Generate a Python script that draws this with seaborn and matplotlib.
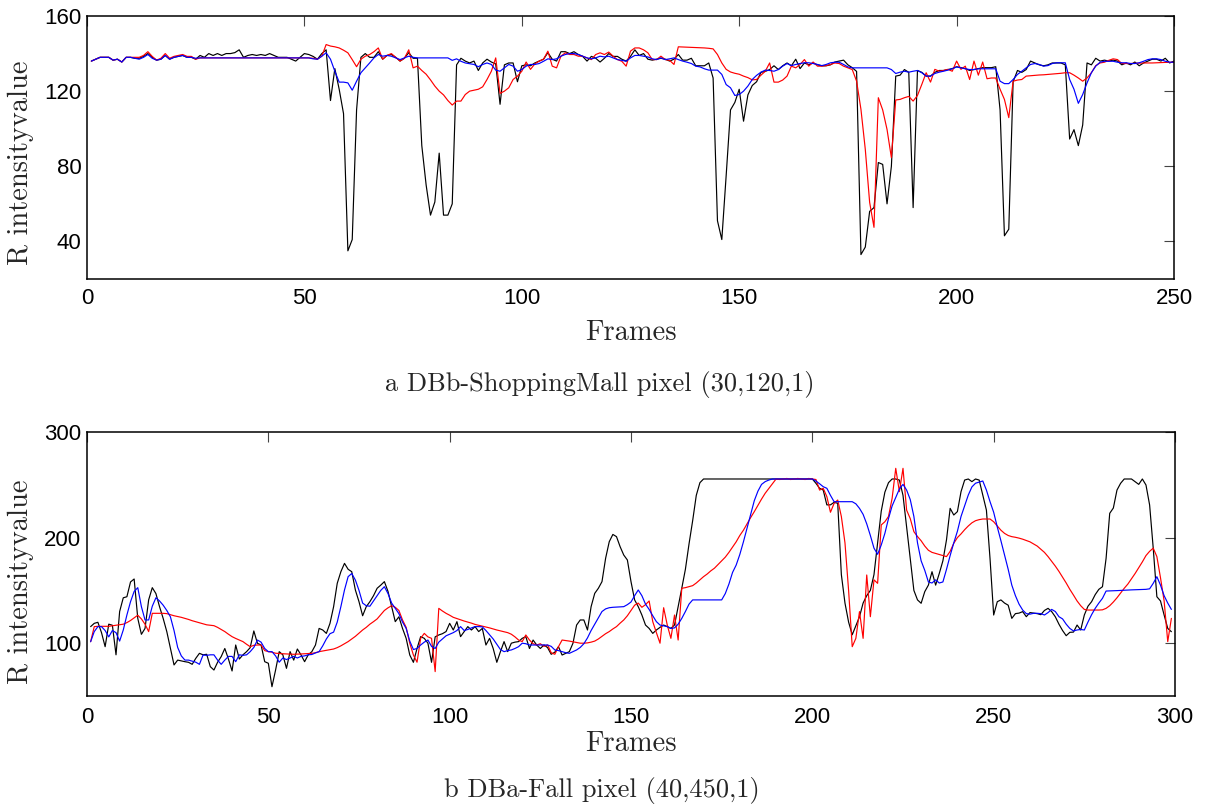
import numpy as np
import pandas as pd
import matplotlib
matplotlib.use("Agg")
import matplotlib.pyplot as plt
import seaborn as sns

# ---------------- data: DBb-ShoppingMall pixel (30,120,1) ----------------
mall_frames = list(range(1, 251))

mall_input = [
    136, 137, 138, 138, 138, 136.5, 137, 135.5, 138, 138,
    137.5, 137.5, 138.5, 140, 138, 136.5, 137, 139, 137, 138,
    138.5, 139, 138, 138, 137, 139, 138, 140, 139, 140,
    139, 140, 140, 140.5, 142, 138, 139, 139.5, 139, 139.5,
    139, 140, 139, 138, 138, 138, 137, 136, 138, 140,
    139.5, 138.5, 137, 140, 142, 115, 132, 121, 108, 35,
    41, 110, 138, 140, 138, 138, 141, 137, 139, 139.5,
    138, 136, 137.5, 140.5, 137.5, 137.5, 91, 70, 54, 61,
    87, 54, 54, 60, 134, 137.5, 136, 135, 136, 131,
    135, 137, 135.5, 134.5, 113, 134, 135, 135, 125, 133.5,
    134, 133.5, 135, 136, 137, 140.5, 137, 136, 141, 141,
    140, 141, 139.5, 138.5, 136, 138.5, 137.5, 135.5, 137.5, 140,
    138.5, 138.5, 137, 136, 138.5, 142, 139, 140, 137, 136.5,
    137, 137.5, 137, 136, 137, 139.5, 136.5, 136.5, 137.5, 133.5,
    133.5, 133.5, 135, 127, 51, 41, 75, 110, 114, 121,
    104, 118, 123, 125, 130, 130.5, 131.5, 133.5, 131.5, 133.5,
    135, 133.5, 137, 132, 135, 134, 135, 134, 133.5, 133.5,
    134, 135.5, 136, 136.5, 134, 132.5, 130.5, 33, 37, 56,
    58, 82, 81, 60, 80, 128, 128.5, 131.5, 130, 58,
    131, 130, 128, 128, 130, 131, 131, 131.5, 132, 133,
    132.5, 132, 131, 131.5, 132, 132.5, 132.5, 132.5, 133, 110,
    43, 46.5, 125, 131, 130, 131.5, 136, 135, 134, 133.5,
    134, 135, 135, 135, 134, 94.5, 99.5, 91, 102, 135,
    134, 137.5, 136, 136.5, 136, 136.5, 136, 134, 135, 134,
    135.5, 133.5, 135, 136, 137, 137, 136, 137.5, 135, 136,
]

mall_model_1 = [
    136, 137, 138, 138, 138, 136.5, 137, 135.5, 138, 138,
    138, 138, 139, 141, 138.5, 136.5, 137.5, 140, 137.5, 138.5,
    139, 139.5, 138.5, 138.5, 137, 137.7, 137.7, 137.7, 137.7, 137.7,
    137.7, 137.7, 137.7, 137.7, 137.7, 137.7, 137.7, 137.7, 137.7, 137.7,
    137.7, 137.7, 137.7, 137.7, 137.7, 137.7, 137.7, 137.7, 137.7, 137.7,
    137.7, 137.5, 137, 138.6, 144.8, 144, 143.6, 143, 141.8, 140.4,
    136.8, 133, 137, 138.6, 139.5, 141, 143, 137, 139, 140,
    138, 136, 137.5, 142, 132.4, 133.3, 131, 129, 126, 122.7,
    120, 118, 115, 112.6, 114.7, 114.7, 118.2, 120, 120.5, 121,
    122.3, 126.2, 130.6, 137.7, 118.8, 120, 121.8, 126.2, 128, 130.6,
    135.5, 131.6, 134.5, 136, 137, 141.3, 133.3, 132.4, 138.6, 140.4,
    139.5, 139.5, 138.6, 138.6, 137.7, 136.8, 139.5, 140.4, 139.5, 140.8,
    138.6, 136.8, 135.9, 133.3, 141.3, 143, 143, 142, 140.4, 136.8,
    136.8, 138.6, 136.8, 136.4, 134.2, 143.6, 143.5, 143.4, 143.3, 143.2,
    143.1, 143, 142.8, 142.5, 139.5, 135, 131.6, 130.2, 129.5, 129,
    128, 127.2, 126, 126.2, 128.5, 130.6, 135, 124.8, 124.8, 125.9,
    128, 133.3, 132.4, 134.2, 136.8, 133.3, 135.5, 133.3, 133.3, 133.6,
    134.2, 135, 134.7, 133.3, 132.4, 131.5, 125.3, 110.3, 89, 60.8,
    47.5, 116.5, 110, 99.6, 84.6, 115.3, 115.6, 116.5, 117.2, 114.7,
    117.7, 123.6, 129.8, 124.8, 131.6, 130.6, 131, 131.6, 130.6, 136,
    131.6, 133.3, 126.2, 136, 128.5, 135.5, 126.6, 127, 127, 121,
    115.6, 105.9, 125.3, 125.9, 126.2, 128, 128.2, 128.4, 128.6, 128.7,
    128.9, 129.1, 129.3, 129.5, 129.8, 129.8, 128.5, 127, 125.3, 127,
    129.8, 133.6, 135, 135.4, 136.4, 137.2, 136.8, 134.7, 134.7, 134.7,
    134.8, 134.9, 135, 135, 135, 135.1, 135.2, 135.3, 135.3, 135.4,
]

mall_model_2 = [
    136, 137, 138, 138, 138, 136.5, 137, 135.5, 138, 138,
    137.5, 137, 138, 139.5, 137.5, 136.5, 137, 139, 137, 138,
    138.5, 139, 138, 138, 137.5, 137.7, 137.7, 137.7, 137.7, 137.7,
    137.7, 137.7, 137.7, 137.7, 137.7, 137.7, 137.7, 137.7, 137.7, 137.7,
    137.7, 137.7, 137.7, 137.7, 137.7, 137.7, 137.7, 137.7, 137.7, 137.7,
    137.7, 137.2, 137, 138.6, 140.4, 137, 130.6, 124.8, 124.8, 124.4,
    120.5, 125.3, 129.8, 132.4, 135, 137.7, 139.5, 138.6, 139, 138.6,
    137.7, 136.8, 137.7, 138.6, 138, 137.7, 137.7, 137.7, 137.7, 137.7,
    137.7, 137.7, 137.7, 136.4, 137.2, 135.9, 135, 134.6, 134.2, 133,
    134.2, 135, 134.2, 131.2, 130.6, 132.4, 134.2, 133.3, 130.6, 131.5,
    133.3, 134.2, 134.2, 134.7, 135.9, 137.2, 136.8, 137.2, 138.6, 139.5,
    140, 140, 139.5, 138.6, 137.7, 137.2, 137.7, 138.6, 138.2, 138.6,
    137.7, 136.8, 136.4, 135.9, 137.7, 139, 139, 138.6, 138.2, 137.2,
    136.8, 137.7, 136.8, 137.2, 137.7, 136.8, 136, 135.4, 134.7, 133.3,
    132.9, 131.9, 131.2, 131.2, 131.2, 128.9, 123.5, 121.8, 117.7, 118.2,
    120, 122.7, 126.2, 128.4, 130.1, 131.2, 131, 130.6, 131.5, 133.3,
    134.7, 133.6, 134.2, 134.7, 135.1, 135.1, 134.7, 134.2, 133.6, 134.2,
    135.1, 135.4, 135.4, 134.2, 132.9, 132.4, 132.4, 132.4, 132.4, 132.4,
    132.4, 132.4, 132.4, 132.4, 131.5, 129.4, 130.1, 130.6, 130.1, 130.6,
    131, 129.8, 128, 128, 129.4, 130.1, 130.6, 131.2, 131.9, 132.9,
    132.4, 131.9, 131.5, 131.5, 131.9, 131.9, 131.9, 131.9, 131.9, 125.3,
    124, 124, 126.2, 128.9, 130.6, 132.4, 134.2, 134.7, 134.2, 133.3,
    133.6, 134.7, 135.1, 135.1, 135.1, 126.2, 121, 113.5, 118.2, 124.4,
    129.8, 133.3, 135.4, 135.9, 135.9, 135.9, 135.4, 135.1, 135.1, 134.7,
    134.7, 135.1, 135.9, 136.8, 137.2, 137.2, 136.8, 135.9, 135.4, 135.4,
]

# ---------------- data: DBa-Fall pixel (40,450,1) ----------------
fall_frames = list(range(1, 300))

fall_input = [
    115.7, 118.8, 119.8, 110, 96.7, 118, 117, 89, 130, 143,
    144, 158, 160.8, 123.5, 108.4, 114, 141, 152.6, 147, 134.6,
    123.5, 111, 95, 79.4, 84, 83.2, 82.5, 81.9, 80, 85.7,
    90.4, 89, 89.5, 77.8, 74.6, 81.9, 87.3, 95, 85, 73.7,
    98.3, 85, 89, 92, 95.8, 111.6, 99.9, 98.3, 82.5, 81,
    58.8, 74.6, 92, 89, 76.2, 92, 84, 94.5, 89, 82.5,
    89, 92, 98.3, 114, 112.5, 109.3, 118.8, 134.6, 156.7, 167.7,
    175.6, 170, 167.7, 150.4, 139.3, 126, 134.6, 139.3, 145, 152,
    155, 158.3, 149, 134.6, 120.4, 125, 114, 104.6, 88.8, 81.9,
    95, 106.2, 104.6, 100, 81.9, 106, 107.8, 109, 111, 118.8,
    112.5, 120.4, 106.2, 111, 115.7, 112.5, 115.7, 111, 114, 98.3,
    104.6, 95, 81.9, 92, 101.5, 92, 100, 101, 101.5, 104.6,
    106.2, 95, 103, 98.3, 95, 98.3, 95.8, 89.5, 91.5, 96.7,
    88.8, 90.4, 92, 100, 117.2, 122, 122, 112.5, 134.6, 147.2,
    152, 158.3, 180.4, 196.1, 203, 200.9, 191.4, 183.5, 178.8, 158.3,
    141, 134.6, 126.7, 117.2, 114, 109.3, 112.5, 115, 117.2, 115.7,
    114, 117.2, 134.6, 152, 170, 194, 216, 240, 252, 255.5,
    255.5, 255.5, 255.5, 255.5, 255.5, 255.5, 255.5, 255.5, 255.5, 255.5,
    255.5, 255.5, 255.5, 255.5, 255.5, 255.5, 255.5, 255.5, 255.5, 255.5,
    255.5, 255.5, 255.5, 255.5, 255.5, 255.5, 255.5, 255.5, 255.5, 255.5,
    251.4, 246.7, 245, 231, 231, 233.4, 232.5, 165, 138, 120,
    108, 116.5, 125, 138, 145, 150, 165, 195, 225, 243,
    252, 255.5, 255.5, 254.5, 240, 210, 180, 150, 141, 137.8,
    148.8, 155, 167.7, 155, 166, 178, 198, 227.7, 221.4, 224.6,
    243.5, 254.5, 255.5, 253, 255.5, 254.5, 240.3, 226, 180, 126.7,
    139.3, 141, 138, 136, 123.5, 128, 128.5, 129.9, 125.1, 129,
    128.5, 128, 127, 131, 133, 129.9, 125, 118, 112, 107.1,
    110.3, 110.5, 117.2, 112.5, 126.7, 135, 139.3, 146, 151, 153.5,
    180.4, 223, 228, 245, 251.4, 255.5, 255.5, 255.5, 253, 250.4,
    255.5, 249.8, 230.9, 189.8, 144, 140, 126.7, 114, 110.9,
]

fall_model_1 = [
    101.4, 115.7, 116, 116, 116, 116, 116.5, 117, 117.5, 118,
    119.5, 121.5, 124, 126.5, 123, 118, 111, 128.3, 128.3, 128.3,
    128.3, 128, 127, 126, 125.3, 124.5, 123.5, 122.5, 121.3, 120.3,
    119.3, 118.3, 117.4, 117, 116.6, 115, 113, 111, 108.5, 106.2,
    104.5, 103, 101.5, 99, 96.7, 98, 98.3, 98.3, 93, 92,
    91.5, 90.5, 90.2, 90, 89.8, 89.6, 89.5, 89.6, 89.8, 90,
    90.2, 90.4, 91, 92, 92.6, 93.2, 93.8, 94.5, 95.8, 97.5,
    99.5, 101.5, 104, 106.5, 109.5, 112.5, 115, 118, 120.4, 123,
    127, 131, 133.5, 135.5, 134, 131, 122, 115, 100, 88.8,
    82, 104.6, 109.3, 106, 104.6, 73.1, 133, 130.5, 128.3, 126.5,
    124.5, 123.3, 122, 121, 120, 119, 117.8, 117, 116.2, 115.5,
    114.5, 113.5, 112.5, 111.7, 110.8, 110, 108.5, 106, 103, 101.5,
    107.8, 103, 99.5, 98.3, 99.5, 97, 98.3, 91, 89.5, 96.7,
    103, 102.5, 102, 101.3, 100.5, 100, 100, 100.3, 101, 102,
    104, 106.5, 109, 111, 113.5, 115.7, 119, 122, 126, 131,
    136, 138, 134, 136.5, 140, 120.4, 110, 100, 133.6, 117.2,
    104.6, 126.7, 103, 152, 152.6, 153.5, 154.5, 157, 160, 163,
    165.5, 168.5, 171, 174.5, 178, 181.5, 186, 191, 196, 202,
    207, 213, 219, 224.6, 230.5, 236.5, 242, 246.5, 251, 255.5,
    255, 255.5, 256, 255, 255.5, 256, 255.5, 255, 256, 255.5,
    255, 245, 246.7, 238.8, 224, 232.4, 235.6, 220, 195, 150,
    96.7, 104.6, 129.9, 104.6, 164.6, 125.1, 160, 156.7, 212, 215,
    220, 237.2, 265.6, 243.5, 265.6, 226, 218, 205.6, 201, 197,
    192, 188, 186, 185, 184, 183, 182, 187, 194.6, 200,
    203.5, 207.5, 211, 214, 216, 217, 217.6, 217.6, 217.6, 215,
    211, 207, 204, 202, 200.9, 200.3, 199.5, 198.5, 197.3, 196,
    194, 192, 189, 186, 182, 177.5, 173, 168, 162.5, 157,
    151, 145.6, 140, 135.5, 132, 131.4, 131.4, 131.4, 131.4, 131.6,
    133, 135.5, 139, 143, 147.5, 152, 156, 161, 166, 171.5,
    177, 183, 187, 190, 182, 162, 140, 101.5, 123.5,
]

fall_model_2 = [
    101.4, 111, 115.7, 115.7, 112, 106, 112, 110, 102, 112.5,
    126.7, 139.3, 149, 152.6, 134.6, 122, 122, 135, 143, 140,
    136, 131, 125, 112, 96, 88, 84, 84, 83, 82,
    80, 88.8, 88.5, 89, 89, 84, 80, 84, 87.5, 87.5,
    82.5, 89, 88.5, 89, 92, 96, 103, 101, 95, 92,
    92, 88, 82, 86, 84.5, 86, 87.5, 86, 87.5, 88,
    89, 89.3, 90.8, 92, 97.5, 104, 109, 110.5, 120, 134.6,
    150.4, 163, 166, 159.8, 150, 138, 135.5, 135, 140, 145,
    150, 153.5, 147, 138, 133, 128, 120, 114, 102, 94,
    95, 98.3, 101, 103, 97, 95, 101, 104, 107, 108.5,
    110, 112, 115.7, 112, 113, 114.5, 115.7, 115.7, 115.5, 112,
    108, 104, 99, 94, 92, 93, 93.6, 95, 96.7, 100,
    99.5, 98.3, 98.3, 98.3, 98.3, 98.3, 98.3, 97, 93.6, 93,
    92, 91, 90.4, 92, 93.6, 96, 99.5, 105, 112, 118,
    124, 130, 132.5, 133.6, 134, 134.2, 134.4, 134.6, 136.5, 139,
    145, 150.4, 145, 137, 132, 126, 120.4, 117.2, 116.5, 115.7,
    114, 114.5, 118, 123.5, 130, 137, 141, 141, 141, 141,
    141, 141, 141, 141, 141, 147, 156, 167, 174, 184,
    196, 209, 222, 235, 244, 250.4, 253, 254.5, 255.5, 255.5,
    255.5, 255.5, 255.5, 255.5, 255.5, 255.5, 255.5, 255.5, 255.5, 255.5,
    253.5, 251, 248.2, 246.7, 240, 234, 234, 234, 234, 234,
    234, 232, 227.7, 222, 213, 202, 190, 184.2, 193, 204,
    218, 230, 238, 246, 250.4, 245, 236, 220, 195, 178,
    169, 158, 157, 160, 157, 158, 170, 183, 195, 206,
    220, 230, 240.3, 248, 251.5, 252.5, 253.6, 245, 234, 224,
    210, 197, 183.5, 170, 155, 145, 137, 131.4, 128, 127.5,
    128.3, 128.3, 128, 126.7, 129, 132, 130, 125.1, 123, 118,
    114, 111.6, 112.5, 113, 112.5, 120, 127, 133, 138, 142.5,
    149.4, 149.5, 149.6, 149.8, 150, 150.2, 150.4, 150.5, 150.6, 150.7,
    150.8, 151, 151.5, 156.7, 163, 155, 145, 138, 132,
]

series_names = ["Input", "Model 1", "Model 2"]
series_colors = {"Input": "#000000", "Model 1": "#ff0000", "Model 2": "#0000ff"}

mall_xticks = [0, 50, 100, 150, 200, 250]
mall_yticks = [40, 80, 120, 160]
fall_xticks = [0, 50, 100, 150, 200, 250, 300]
fall_yticks = [100, 200, 300]


def long_table(frames, *columns):
    parts = []
    for name, values in zip(series_names, columns):
        parts.append(pd.DataFrame({"frame": frames, "value": values, "series": name}))
    return pd.concat(parts, ignore_index=True)


mall_df = long_table(mall_frames, mall_input, mall_model_1, mall_model_2)
fall_df = long_table(fall_frames, fall_input, fall_model_1, fall_model_2)

# ---------------- figure ----------------
sns.set_theme(style="white")
plt.rcParams["font.family"] = ["Liberation Sans", "DejaVu Sans"]

W, H = 1213, 807
fig = plt.figure(figsize=(W / 100, H / 100), dpi=100)


def axes_rect(left, top, right, bottom):
    return [left / W, 1 - bottom / H, (right - left) / W, (bottom - top) / H]


ax_top = fig.add_axes(axes_rect(87, 16, 1174, 279))
ax_bot = fig.add_axes(axes_rect(87, 432, 1175, 696))

serif = "cmr10"


def draw_panel(ax, df, xlim, ylim, xticks, yticks, xlabel_y, ylabel_y, xpad):
    sns.lineplot(data=df, x="frame", y="value", hue="series",
                 hue_order=series_names, palette=series_colors,
                 estimator=None, sort=False, linewidth=0.85,
                 legend=False, ax=ax)
    ax.set_xlim(*xlim)
    ax.set_ylim(*ylim)
    ax.set_xticks(xticks)
    ax.set_yticks(yticks)
    ax.tick_params(axis="both", direction="in", length=7, width=0.8,
                   color="#444444", top=True, right=True, labelsize=16,
                   labelcolor="black")
    ax.tick_params(axis="x", pad=xpad)
    ax.tick_params(axis="y", pad=4)
    for sp in ax.spines.values():
        sp.set_visible(True)
        sp.set_color("black")
        sp.set_linewidth(1.1)
    ax.set_xlabel("Frames", family=serif, fontsize=20.5, va="center")
    ax.xaxis.set_label_coords(0.5, xlabel_y)
    ax.set_ylabel("R intensityvalue", family=serif, fontsize=20.5, va="center")
    ax.yaxis.set_label_coords(-0.0607, ylabel_y)
    ax.set_facecolor("white")


draw_panel(ax_top, mall_df, (0, 250), (20, 160), mall_xticks, mall_yticks,
           -0.205, 0.441, 6.5)
draw_panel(ax_bot, fall_df, (0, 300), (50, 300), fall_xticks, fall_yticks,
           -0.182, 0.432, 8)

fig.text(600 / W, 1 - 385 / H, "a DBb-ShoppingMall pixel (30,120,1)",
         family=serif, fontsize=19, ha="center", va="center")
fig.text(602 / W, 1 - 790 / H, "b DBa-Fall pixel (40,450,1)",
         family=serif, fontsize=19, ha="center", va="center")

fig.savefig("out.png", dpi=100, facecolor="white")
